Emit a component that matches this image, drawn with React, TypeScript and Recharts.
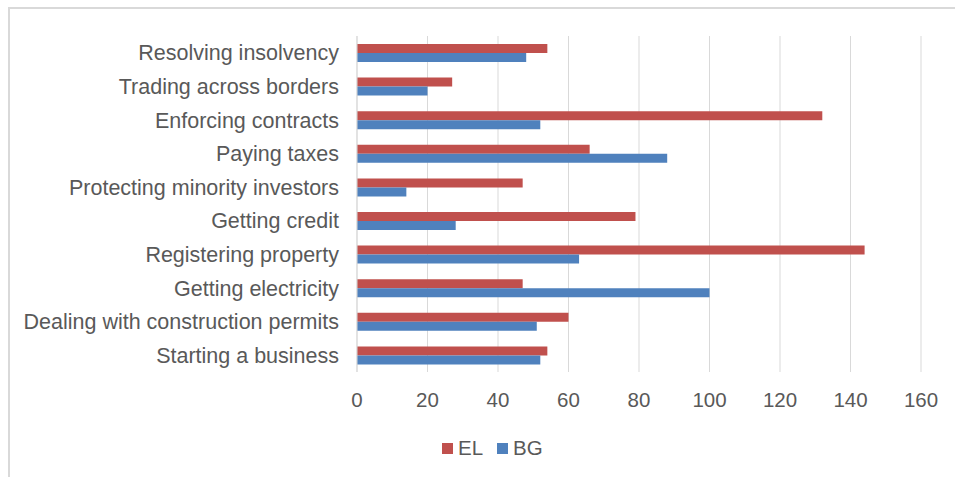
import React from 'react';
import { BarChart, Bar, XAxis, YAxis, CartesianGrid, Legend } from 'recharts';

const categories = [
  'Resolving insolvency',
  'Trading across borders',
  'Enforcing contracts',
  'Paying taxes',
  'Protecting minority investors',
  'Getting credit',
  'Registering property',
  'Getting electricity',
  'Dealing with construction permits',
  'Starting a business',
];
const elValues = [54, 27, 132, 66, 47, 79, 144, 47, 60, 54];
const bgValues = [48, 20, 52, 88, 14, 28, 63, 100, 51, 52];
const xTicks = [0, 20, 40, 60, 80, 100, 120, 140, 160];
const seriesNames = ['EL', 'BG'];

const RED = '#C0504D';
const BLUE = '#4F81BD';
const TEXT = '#595959';
const GRID = '#d9d9d9';
const seriesColors = [RED, BLUE];

const data = categories.map((name, i) => ({ name, EL: elValues[i], BG: bgValues[i] }));

const LegendContent = () => (
  <div style={{ display: 'flex', alignItems: 'center', fontSize: 20.5, color: TEXT, lineHeight: '24px' }}>
    {seriesNames.map((s, i) => (
      <span key={s} style={{ display: 'flex', alignItems: 'center', marginRight: 14 }}>
        <span style={{ width: 11, height: 11, background: seriesColors[i], marginRight: 5 }} />
        {s}
      </span>
    ))}
  </div>
);

export default function App() {
  return (
    <div
      style={{
        position: 'absolute',
        left: 8,
        top: 7,
        width: 947,
        height: 470,
        borderLeft: `2px solid ${GRID}`,
        borderTop: `2px solid ${GRID}`,
        fontFamily: '"Liberation Sans", Arial, sans-serif',
        background: '#fff',
      }}
    >
      <BarChart
        width={945}
        height={468}
        data={data}
        layout="vertical"
        barSize={9}
        barGap={0}
        margin={{ top: 27, right: 34, left: 0, bottom: 0 }}
      >
        <CartesianGrid horizontal={false} stroke={GRID} strokeWidth={1} />
        <XAxis
          type="number"
          domain={[0, 160]}
          ticks={xTicks}
          axisLine={false}
          tickLine={false}
          tickMargin={14}
          height={40}
          tick={{ fontSize: 20.5, fill: TEXT }}
        />
        <YAxis
          type="category"
          dataKey="name"
          width={347}
          axisLine={{ stroke: GRID, strokeWidth: 1 }}
          tickLine={false}
          tickMargin={12}
          interval={0}
          tick={{ fontSize: 21.5, fill: TEXT }}
        />
        <Legend
          verticalAlign="bottom"
          align="left"
          content={<LegendContent />}
          wrapperStyle={{ left: 432, width: 'auto', height: 65, boxSizing: 'border-box', paddingTop: 24 }}
        />
        <Bar dataKey="EL" fill={RED} isAnimationActive={false} />
        <Bar dataKey="BG" fill={BLUE} isAnimationActive={false} />
      </BarChart>
    </div>
  );
}
